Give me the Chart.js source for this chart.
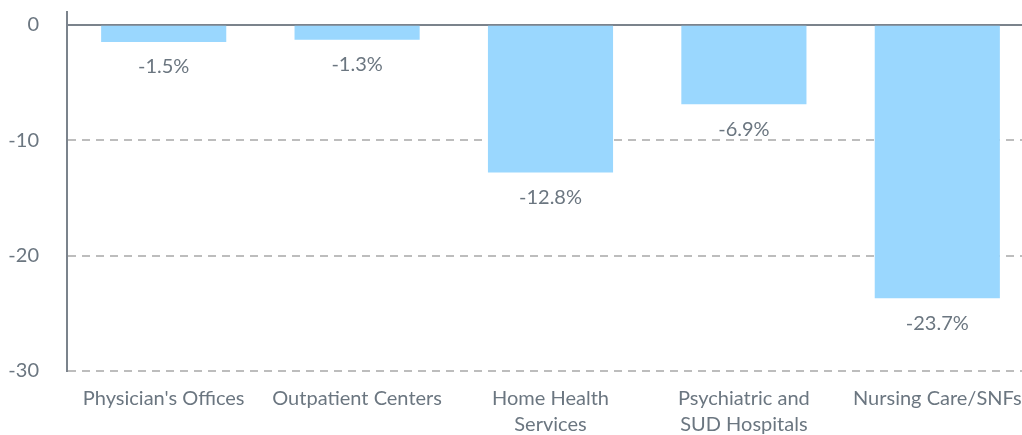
<!DOCTYPE html>
<html>
<head>
<meta charset="utf-8">
<script src="https://cdn.jsdelivr.net/npm/chart.js@4"></script>
<style>
  html, body { margin: 0; padding: 0; background: #fff; overflow: hidden; }
  #wrap { width: 1034px; height: 435px; }
</style>
</head>
<body>
<div id="wrap"><canvas id="chart"></canvas></div>
<script>
const categories = [
  "Physician's Offices",
  "Outpatient Centers",
  ["Home Health", "Services"],
  ["Psychiatric and", "SUD Hospitals"],
  "Nursing Care/SNFs"
];
const changePct = [-1.5, -1.3, -12.8, -6.9, -23.7];
const yTicks = [0, -10, -20, -30];

const textColor = '#6b7680';

// labels under each bar
const barLabels = {
  id: 'barLabels',
  afterDatasetsDraw(chart) {
    const ctx = chart.ctx;
    const meta = chart.getDatasetMeta(0);
    ctx.save();
    ctx.font = '20px Lato';
    ctx.fillStyle = textColor;
    ctx.textAlign = 'center';
    ctx.textBaseline = 'middle';
    meta.data.forEach((bar, i) => {
      ctx.fillText(changePct[i].toFixed(1) + '%', bar.x, bar.y + 25);
    });
    ctx.restore();
  }
};

const ctx = document.getElementById('chart');
const chart = new Chart(ctx, {
  type: 'bar',
  data: {
    labels: categories,
    datasets: [{
      data: changePct,
      backgroundColor: '#9ad7fe',
      barPercentage: 1,
      categoryPercentage: 0.647
    }]
  },
  options: {
    responsive: true,
    maintainAspectRatio: false,
    animation: false,
    layout: { padding: { top: 10, right: 0, left: 0, bottom: 0 } },
    plugins: {
      legend: { display: false },
      tooltip: { enabled: false }
    },
    scales: {
      x: {
        afterFit: (scale) => { scale.height = 64; },
        grid: { display: false, drawTicks: true, tickLength: 15, tickColor: 'transparent' },
        border: { display: false },
        ticks: {
          color: textColor,
          font: { family: 'Lato', size: 20, lineHeight: 1.3 },
          padding: 0,
          maxRotation: 0,
          autoSkip: false
        }
      },
      y: {
        min: -30,
        max: 1.1,
        afterBuildTicks: (scale) => {
          scale.ticks = yTicks.slice().reverse().map(v => ({ value: v }));
        },
        afterFit: (scale) => { scale.width = 67; },
        grid: {
          drawTicks: true,
          tickLength: 28,
          tickColor: 'transparent',
          color: (c) => (c.tick && c.tick.value === 0) ? '#7b838c' : '#bdbdbd',
          lineWidth: 2
        },
        border: {
          display: true,
          color: '#7b838c',
          width: 2,
          dash: (c) => (c.tick && c.tick.value !== 0) ? [8, 6] : []
        },
        ticks: {
          color: textColor,
          font: { family: 'Lato', size: 20 },
          padding: 0
        }
      }
    }
  },
  plugins: [barLabels]
});
</script>
</body>
</html>
